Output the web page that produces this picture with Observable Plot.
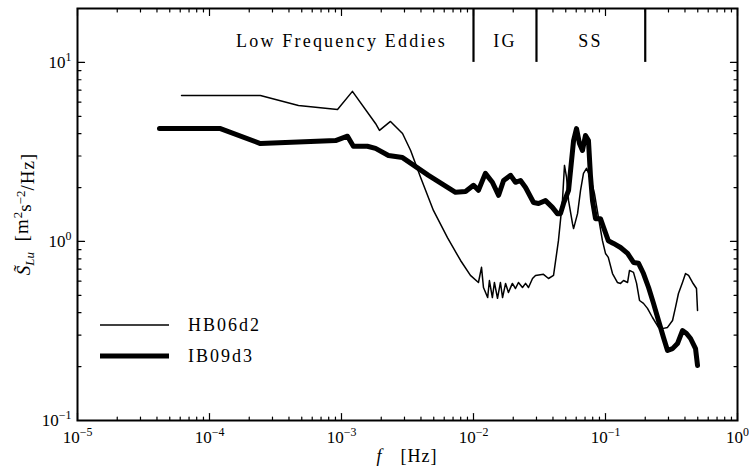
<!DOCTYPE html>
<html><head><meta charset="utf-8">
<script src="https://cdn.jsdelivr.net/npm/d3@7"></script>
<script src="https://cdn.jsdelivr.net/npm/@observablehq/plot@0.6"></script>
<style>
body{margin:0;background:#fff}
svg text{font-family:"Liberation Serif","DejaVu Serif",serif !important}
</style>
</head><body><div id="chart"></div>
<script>
// HB06d2 (thin line)
const hbF = [6.14e-5,2.43e-4,4.72e-4,9.33e-4,1.21e-3,1.81e-3,1.94e-3,2.35e-3,2.90e-3,3.34e-3,3.97e-3,4.97e-3,6.35e-3,7.98e-3,9.48e-3,
  1.09e-2,1.15e-2,1.19e-2,1.28e-2,1.32e-2,1.39e-2,1.44e-2,1.52e-2,1.60e-2,1.66e-2,1.75e-2,1.84e-2,1.97e-2,2.08e-2,2.19e-2,2.35e-2,2.48e-2,2.61e-2,2.80e-2,2.95e-2,3.39e-2,3.70e-2,4.04e-2,
  4.40e-2,4.72e-2,4.89e-2,5.07e-2,5.25e-2,5.62e-2,5.73e-2,6.14e-2,6.47e-2,6.81e-2,7.18e-2,7.69e-2,8.25e-2,8.85e-2,9.48e-2,
  0.100,0.105,0.113,0.123,0.130,0.137,0.147,0.152,0.163,0.172,0.181,0.194,0.208,0.227,0.252,0.275,0.295,0.322,0.339,0.357,0.383,0.404,0.426,0.456,0.489,0.498];
const hbS = [6.54,6.54,5.75,5.46,6.89,4.56,4.17,4.68,4.01,3.22,2.28,1.49,1.05,0.783,0.646,
  0.590,0.717,0.553,0.486,0.605,0.486,0.590,0.481,0.590,0.486,0.583,0.519,0.583,0.546,0.590,0.553,0.583,0.553,0.621,0.646,0.655,0.621,0.646,
  1.01,1.69,2.66,2.28,1.69,1.26,1.18,1.43,1.93,2.40,2.56,2.28,1.85,1.36,1.01,
  0.857,0.815,0.662,0.590,0.583,0.605,0.590,0.689,0.672,0.583,0.468,0.451,0.423,0.376,0.331,0.327,0.331,0.362,0.428,0.512,0.590,0.662,0.646,0.590,0.546,0.412];
// IB09d3 (thick line)
const ibF = [4.18e-5,1.21e-4,2.43e-4,9.02e-4,1.11e-3,1.23e-3,1.57e-3,1.81e-3,2.27e-3,2.90e-3,4.56e-3,7.31e-3,8.70e-3,
  1.00e-2,1.09e-2,1.23e-2,1.39e-2,1.55e-2,1.69e-2,1.91e-2,2.08e-2,2.27e-2,2.48e-2,2.85e-2,3.11e-2,3.51e-2,3.96e-2,4.32e-2,4.56e-2,4.81e-2,
  5.25e-2,5.73e-2,6.03e-2,6.35e-2,6.69e-2,7.05e-2,7.43e-2,7.69e-2,7.97e-2,8.40e-2,9.16e-2,9.66e-2,
  0.105,0.115,0.130,0.147,0.163,0.178,0.194,0.212,0.231,0.252,0.275,0.295,0.322,0.351,0.383,0.411,0.441,0.481,0.498];
const ibS = [4.27,4.27,3.52,3.66,3.87,3.40,3.40,3.31,3.02,2.94,2.34,1.88,1.90,
  2.06,1.93,2.40,2.14,1.81,2.19,2.34,2.14,2.19,2.00,1.65,1.63,1.69,1.55,1.43,1.43,1.63,
  1.93,3.66,4.27,3.52,3.22,3.91,3.66,2.34,1.69,1.34,1.34,1.20,
  1.01,0.975,0.925,0.857,0.763,0.755,0.662,0.553,0.451,0.362,0.291,0.246,0.252,0.269,0.318,0.306,0.287,0.252,0.203];

const seriesNames = ["HB06d2", "IB09d3"];
const bandEdges = [0.01, 0.03, 0.2];
const bandFloor = 10;
const bandNames = ["Low Frequency Eddies", "IG", "SS"];
const bandLabelF = [1e-3, 0.0173, 0.077];
const xMajor = [1e-5, 1e-4, 1e-3, 1e-2, 1e-1, 1];
const yMajor = [0.1, 1, 10];
const xMinor = d3.range(-5, 0).flatMap(e => d3.range(2, 10).map(m => m * 10 ** e));
const yMinor = [...d3.range(2, 10).map(m => m * 0.1), ...d3.range(2, 10)];

const hb = hbF.map((f, i) => ({f, S: hbS[i]}));
const ib = ibF.map((f, i) => ({f, S: ibS[i]}));

const W = 749, H = 474, mL = 77, mR = 12, mT = 8, mB = 54;
const tickShape = {draw(ctx, l) { ctx.moveTo(0, 0); ctx.lineTo(0, -l); }};
const fmt = d => "10^" + Math.round(Math.log10(d));

function ticks(data, ch, anchor, rotate, len) {
  const o = {frameAnchor: anchor, length: len, rotate, anchor: "start", shape: tickShape, stroke: "black", strokeWidth: 1.2};
  o[ch] = d => d;
  return Plot.vector(data, o);
}

const chart = Plot.plot({
  width: W, height: H,
  marginLeft: mL, marginRight: mR, marginTop: mT, marginBottom: mB,
  style: {fontFamily: "'Liberation Serif', serif", fontSize: "15px", color: "black", background: "white"},
  x: {type: "log", domain: [1e-5, 1], axis: null},
  y: {type: "log", domain: [0.1, 20], axis: null},
  marks: [
    ticks(xMajor, "x", "bottom", 0, 7),
    ticks(xMinor, "x", "bottom", 0, 3.5),
    ticks(xMajor, "x", "top", 180, 7),
    ticks(xMinor, "x", "top", 180, 3.5),
    ticks(yMajor, "y", "left", 90, 7),
    ticks(yMinor, "y", "left", 90, 3.5),
    ticks(yMajor, "y", "right", -90, 7),
    ticks(yMinor, "y", "right", -90, 3.5),
    Plot.text(xMajor, {x: d => d, frameAnchor: "bottom", dy: 22, text: fmt, fill: "black", fontSize: 17}),
    Plot.text(yMajor, {y: d => d, frameAnchor: "left", dx: -6, textAnchor: "end", text: fmt, fill: "black", fontSize: 17}),
    Plot.ruleX(bandEdges, {x: d => d, y1: bandFloor, y2: 20, stroke: "black", strokeWidth: 2.2}),
    Plot.text(bandNames, {x: (d, i) => bandLabelF[i], frameAnchor: "top", dy: 26, text: d => d, fill: "black", fontSize: 18}),
    Plot.line(hb, {x: "f", y: "S", stroke: "black", strokeWidth: 1.5, strokeLinejoin: "round"}),
    Plot.line(ib, {x: "f", y: "S", stroke: "black", strokeWidth: 5, strokeLinejoin: "round"}),
    Plot.frame({stroke: "black", strokeWidth: 2})
  ]
});
document.getElementById("chart").appendChild(chart);

const svg = d3.select(chart);
// superscript tick labels
svg.selectAll("text").each(function() {
  const m = this.textContent.match(/^10\^(-?\d+)$/);
  if (!m) return;
  const t = d3.select(this);
  t.text(null);
  t.append("tspan").text("10");
  t.append("tspan").attr("dy", "-0.55em").attr("font-size", "0.7em").text(m[1].replace("-", "\u2212"));
});
// widen band label spacing like the reference
svg.selectAll("text").filter(function() { return bandNames.includes(this.textContent); })
  .style("letter-spacing", "2.2px");

// axis labels
const yl = svg.append("text").attr("transform", `translate(30,${(mT + H - mB) / 2}) rotate(-90)`)
  .attr("text-anchor", "middle").style("font-size", "19px").attr("fill", "black");
yl.append("tspan").attr("font-style", "italic").text("S\u0303");
yl.append("tspan").attr("font-style", "italic").style("font-size", "13px").attr("dy", "0.3em").text("Lu");
yl.append("tspan").attr("dy", "-0.3em").attr("xml:space", "preserve").style("letter-spacing", "1px").text("\u2002[m");
yl.append("tspan").style("font-size", "13px").attr("dy", "-0.5em").text("2");
yl.append("tspan").attr("dy", "0.5em").text("s");
yl.append("tspan").style("font-size", "13px").attr("dy", "-0.5em").text("\u22122");
yl.append("tspan").attr("dy", "0.5em").style("letter-spacing", "1px").text("/Hz]");

const xl = svg.append("text").attr("x", (mL + W - mR) / 2).attr("y", H - 12)
  .attr("text-anchor", "middle").style("font-size", "18px").attr("fill", "black");
xl.append("tspan").attr("font-style", "italic").text("f");
xl.append("tspan").style("letter-spacing", "1px").attr("xml:space", "preserve").text("\u2003[Hz]");

// legend
const lg = svg.append("g").attr("transform", `translate(100,325)`);
seriesNames.forEach((name, i) => {
  lg.append("line").attr("x1", 0).attr("x2", 69).attr("y1", i * 31).attr("y2", i * 31)
    .attr("stroke", "black").attr("stroke-width", i ? 5 : 1.5);
  lg.append("text").attr("x", 88).attr("y", i * 31).attr("dy", "0.35em")
    .attr("text-anchor", "start").style("font-size", "18px")
    .style("letter-spacing", "2px").attr("fill", "black").text(name);
});
</script></body></html>
